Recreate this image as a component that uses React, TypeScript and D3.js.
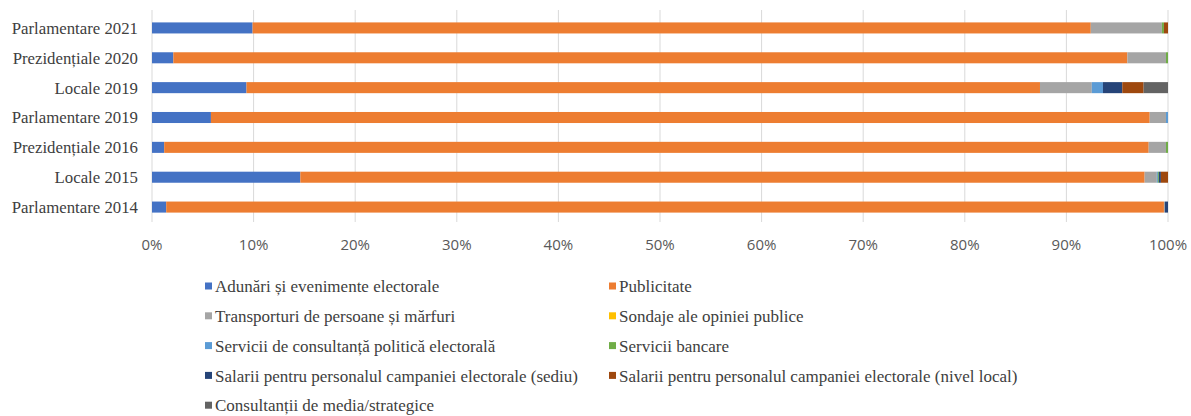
import React from "react";
import * as d3 from "d3";

const categories = [
  "Parlamentare 2021",
  "Prezidențiale 2020",
  "Locale 2019",
  "Parlamentare 2019",
  "Prezidențiale 2016",
  "Locale 2015",
  "Parlamentare 2014",
];

const seriesNames = [
  "Adunări și evenimente electorale",
  "Publicitate",
  "Transporturi de persoane și mărfuri",
  "Sondaje ale opiniei publice",
  "Servicii de consultanță politică electorală",
  "Servicii bancare",
  "Salarii pentru personalul campaniei electorale (sediu)",
  "Salarii pentru personalul campaniei electorale (nivel local)",
  "Consultanții de media/strategice",
];

const seriesColors = [
  "#4472C4",
  "#ED7D31",
  "#A5A5A5",
  "#FFC000",
  "#5B9BD5",
  "#70AD47",
  "#264478",
  "#9E480E",
  "#636363",
];

// percent values per series, in category order
const adunari = [9.9, 2.1, 9.3, 5.8, 1.2, 14.6, 1.4];
const publicitate = [82.5, 93.9, 78.1, 92.4, 96.9, 83.1, 98.2];
const transporturi = [7.0, 3.8, 5.1, 1.6, 1.7, 1.2, 0.1];
const sondaje = [0, 0, 0, 0, 0, 0, 0];
const consultantaPolitica = [0, 0, 1.1, 0.2, 0, 0.1, 0];
const bancare = [0.2, 0.2, 0, 0, 0.2, 0.1, 0];
const salariiSediu = [0, 0, 1.9, 0, 0, 0.2, 0.3];
const salariiLocal = [0.4, 0, 2.1, 0, 0, 0.7, 0];
const consultantiMedia = [0, 0, 2.4, 0, 0, 0, 0];

const seriesValues = [
  adunari,
  publicitate,
  transporturi,
  sondaje,
  consultantaPolitica,
  bancare,
  salariiSediu,
  salariiLocal,
  consultantiMedia,
];

const tickValues = [0, 0.1, 0.2, 0.3, 0.4, 0.5, 0.6, 0.7, 0.8, 0.9, 1];

export default function App() {
  const W = 1191;
  const H = 416;
  const x0 = 152;
  const x1 = 1168;
  const yTop = 13;
  const yBot = 222;

  const x = d3.scaleLinear().domain([0, 1]).range([x0, x1]);
  const y = d3
    .scaleBand<string>()
    .domain(categories)
    .range([yTop, yBot])
    .paddingInner(0.63)
    .paddingOuter(0.315);

  const rows = categories.map((c, i) => {
    const r: Record<string, number | string> = { cat: c };
    const total = d3.sum(seriesValues, (s) => s[i]);
    seriesNames.forEach((n, k) => {
      r[n] = seriesValues[k][i] / total;
    });
    return r;
  });
  const stacked = d3.stack<any>().keys(seriesNames)(rows);
  const fmt = d3.format(".0%");

  const legendCols = [205, 609];
  const legendY0 = 286.5;
  const legendStep = 29.8;

  return (
    <svg
      width={W}
      height={H}
      style={{ position: "absolute", left: 0, top: 0, background: "#fff" }}
    >
      <rect width={W} height={H} fill="#fff" />
      {tickValues.map((t) => (
        <line
          key={t}
          x1={x(t)}
          x2={x(t)}
          y1={10}
          y2={yBot}
          stroke="#d9d9d9"
          strokeWidth={1}
        />
      ))}
      {stacked.map((layer, k) => (
        <g key={layer.key} fill={seriesColors[k]}>
          {layer.map((d, i) =>
            d[1] - d[0] > 0 ? (
              <rect
                key={i}
                x={x(d[0])}
                width={x(d[1]) - x(d[0])}
                y={y(categories[i])}
                height={y.bandwidth()}
              />
            ) : null
          )}
        </g>
      ))}
      {categories.map((c) => (
        <text
          key={c}
          x={138}
          y={(y(c) as number) + y.bandwidth() / 2}
          dy="0.35em"
          textAnchor="end"
          fontFamily="'Liberation Serif', 'DejaVu Serif', serif"
          fontSize={16.8}
          fill="#404040"
        >
          {c}
        </text>
      ))}
      {tickValues.map((t) => (
        <text
          key={t}
          x={x(t)}
          y={250}
          textAnchor="middle"
          fontFamily="'Open Sans', sans-serif"
          fontSize={15}
          fill="#595959"
        >
          {fmt(t)}
        </text>
      ))}
      {seriesNames.map((n, k) => {
        const col = k % 2;
        const row = Math.floor(k / 2);
        const lx = legendCols[col];
        const ly = legendY0 + row * legendStep;
        return (
          <g key={n}>
            <rect x={lx} y={ly - 4} width={7} height={7} fill={seriesColors[k]} />
            <text
              x={lx + 10}
              y={ly}
              dy="0.33em"
              fontFamily="'Liberation Serif', 'DejaVu Serif', serif"
              fontSize={17}
              fill="#404040"
            >
              {n}
            </text>
          </g>
        );
      })}
    </svg>
  );
}
